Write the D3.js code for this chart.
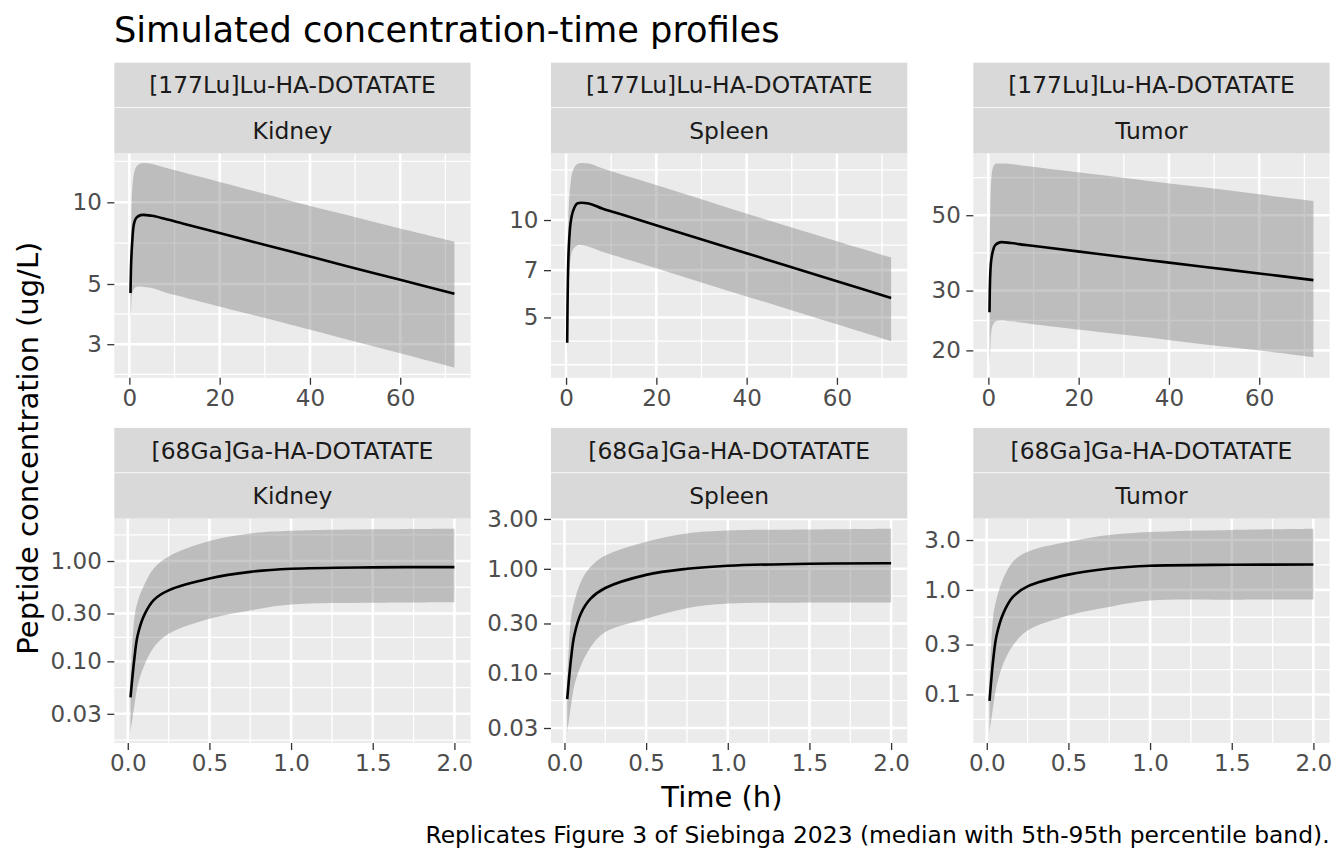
<!DOCTYPE html>
<html>
<head>
<meta charset="utf-8">
<script src="https://cdnjs.cloudflare.com/ajax/libs/d3/7.8.5/d3.min.js"></script>
<style>
  body { margin: 0; background: #ffffff; }
  text { font-family: "DejaVu Sans", sans-serif; }
</style>
</head>
<body>
<div id="chart"></div>
<script>
//Facet labels
var tracers = ["[177Lu]Lu-HA-DOTATATE", "[68Ga]Ga-HA-DOTATATE"];
var tissues = ["Kidney", "Spleen", "Tumor"];

//Time points (h)
var timeLu = [0.25, 0.4, 0.6, 1, 1.5, 2.5, 5, 8, 12, 24, 36, 48, 60, 72];
var timeGa = [0.0167, 0.04, 0.06, 0.1, 0.16, 0.25, 0.5, 0.75, 1, 1.5, 2];

//[177Lu] median, 5th and 95th percentile (ug/L)
var luKidneyMed = [4.63, 6.0, 7.0, 8.3, 8.75, 8.97, 8.92, 8.68, 8.34, 7.40, 6.57, 5.83, 5.18, 4.60];
var luKidneyLo  = [3.7, 4.1, 4.6, 4.8, 4.87, 4.89, 4.83, 4.65, 4.47, 3.97, 3.53, 3.13, 2.78, 2.46];
var luKidneyHi  = [5.5, 8.0, 11.0, 12.7, 13.5, 13.9, 13.85, 13.4, 12.88, 11.42, 10.1, 8.99, 8.0, 7.16];

var luSpleenMed = [4.18, 6.5, 8.2, 9.8, 10.6, 11.25, 11.25, 10.85, 10.43, 9.25, 8.21, 7.29, 6.47, 5.74];
var luSpleenLo  = [3.5, 5.2, 6.5, 7.6, 8.1, 8.35, 8.27, 7.98, 7.67, 6.81, 6.04, 5.37, 4.76, 4.22];
var luSpleenHi  = [5.0, 8.5, 11.0, 13.0, 14.2, 14.9, 14.95, 14.45, 13.88, 12.32, 10.9, 9.67, 8.6, 7.66];

var luTumorMed = [25.9, 33, 36.5, 39.2, 40.8, 41.6, 41.4, 40.9, 40.3, 38.5, 36.8, 35.2, 33.7, 32.2];
var luTumorLo  = [17.8, 20, 22.5, 23.8, 24.3, 24.5, 24.35, 24.1, 23.7, 22.7, 21.8, 20.8, 20.0, 19.1];
var luTumorHi  = [30, 50, 62, 69, 70.8, 71.0, 70.8, 69.9, 68.9, 65.9, 63.0, 60.3, 57.6, 55.1];

//[68Ga] median, 5th and 95th percentile (ug/L)
var gaKidneyMed = [0.0438, 0.105, 0.18, 0.287, 0.41, 0.51, 0.67, 0.78, 0.837, 0.865, 0.87];
var gaKidneyLo  = [0.0194, 0.0358, 0.0569, 0.0903, 0.138, 0.188, 0.266, 0.322, 0.368, 0.383, 0.388];
var gaKidneyHi  = [0.07, 0.266, 0.391, 0.574, 0.845, 1.11, 1.58, 1.88, 2.0, 2.07, 2.1];

var gaSpleenMed = [0.0566, 0.137, 0.23, 0.372, 0.518, 0.655, 0.875, 1.0, 1.07, 1.12, 1.13];
var gaSpleenLo  = [0.027, 0.049, 0.076, 0.118, 0.178, 0.248, 0.333, 0.42, 0.465, 0.475, 0.477];
var gaSpleenHi  = [0.08, 0.333, 0.482, 0.75, 1.045, 1.34, 1.82, 2.18, 2.32, 2.38, 2.42];

var gaTumorMed = [0.087, 0.219, 0.366, 0.59, 0.857, 1.08, 1.40, 1.60, 1.70, 1.74, 1.75];
var gaTumorLo  = [0.043, 0.078, 0.121, 0.195, 0.294, 0.409, 0.57, 0.687, 0.79, 0.805, 0.81];
var gaTumorHi  = [0.13, 0.57, 0.82, 1.28, 1.86, 2.32, 2.89, 3.35, 3.58, 3.75, 3.85];

//Tick values and labels
var luTimeTicks = [0, 20, 40, 60];
var luTimeLabels = ["0", "20", "40", "60"];
var gaTimeTicks = [0, 0.5, 1, 1.5, 2];
var gaTimeLabels = ["0.0", "0.5", "1.0", "1.5", "2.0"];

var luKidneyTicks = [3, 5, 10];
var luKidneyLabels = ["3", "5", "10"];
var luSpleenTicks = [5, 7, 10];
var luSpleenLabels = ["5", "7", "10"];
var luTumorTicks = [20, 30, 50];
var luTumorLabels = ["20", "30", "50"];
var gaKidneyTicks = [0.03, 0.1, 0.3, 1];
var gaKidneyLabels = ["0.03", "0.10", "0.30", "1.00"];
var gaSpleenTicks = [0.03, 0.1, 0.3, 1, 3];
var gaSpleenLabels = ["0.03", "0.10", "0.30", "1.00", "3.00"];
var gaTumorTicks = [0.1, 0.3, 1, 3];
var gaTumorLabels = ["0.1", "0.3", "1.0", "3.0"];

var titleText = "Simulated concentration-time profiles";
var xTitle = "Time (h)";
var yTitle = "Peptide concentration (ug/L)";
var captionText = "Replicates Figure 3 of Siebinga 2023 (median with 5th-95th percentile band).";

//Layout
var w = 1344;
var h = 864;
var colLeft = [114.3, 551, 973.3];
var panelW = 356.3;
var rowTop = [153.3, 518.5];
var panelH = 224.5;
var stripH = 45.3;

//Build panel table from the arrays above
var medTable = [[luKidneyMed, luSpleenMed, luTumorMed], [gaKidneyMed, gaSpleenMed, gaTumorMed]];
var loTable = [[luKidneyLo, luSpleenLo, luTumorLo], [gaKidneyLo, gaSpleenLo, gaTumorLo]];
var hiTable = [[luKidneyHi, luSpleenHi, luTumorHi], [gaKidneyHi, gaSpleenHi, gaTumorHi]];
var yTickTable = [[luKidneyTicks, luSpleenTicks, luTumorTicks], [gaKidneyTicks, gaSpleenTicks, gaTumorTicks]];
var yLabelTable = [[luKidneyLabels, luSpleenLabels, luTumorLabels], [gaKidneyLabels, gaSpleenLabels, gaTumorLabels]];
var timeTable = [timeLu, timeGa];
var xTickTable = [luTimeTicks, gaTimeTicks];
var xLabelTable = [luTimeLabels, gaTimeLabels];

var panels = [];
tracers.forEach(function(tr, r) {
  tissues.forEach(function(ts, c) {
    var time = timeTable[r];
    panels.push({
      tracer: tr,
      tissue: ts,
      row: r,
      col: c,
      rows: time.map(function(t, i) {
        return { t: t, med: medTable[r][c][i], lo: loTable[r][c][i], hi: hiTable[r][c][i] };
      }),
      xTicks: xTickTable[r],
      xLabels: xLabelTable[r],
      yTicks: yTickTable[r][c],
      yLabels: yLabelTable[r][c]
    });
  });
});

//ggplot-like minor breaks: midpoints in transformed space, one step past the ends
function minorBreaks(major, lo, hi) {
  var b = major.slice();
  if (b[0] > lo) b.unshift(b[0] - (b[1] - b[0]));
  var n = b.length;
  if (b[n - 1] < hi) b.push(b[n - 1] + (b[n - 1] - b[n - 2]));
  var out = [];
  for (var i = 0; i < b.length - 1; i++) {
    out.push(b[i], (b[i] + b[i + 1]) / 2);
  }
  out.push(b[b.length - 1]);
  return out.filter(function(v) { return v >= lo && v <= hi; });
}

var svg = d3.select("#chart")
  .append("svg")
  .attr("width", w)
  .attr("height", h);

svg.append("rect")
  .attr("width", w)
  .attr("height", h)
  .attr("fill", "#ffffff");

var smooth = d3.curveCatmullRom.alpha(0.5);

panels.forEach(function(p) {
  var x0 = colLeft[p.col];
  var y0 = rowTop[p.row];

  //Scales with 5% expansion (log space for y)
  var tExt = d3.extent(p.rows, function(d) { return d.t; });
  var tPad = (tExt[1] - tExt[0]) * 0.05;
  var xScale = d3.scaleLinear()
    .domain([tExt[0] - tPad, tExt[1] + tPad])
    .range([0, panelW]);

  var lmin = Math.log10(d3.min(p.rows, function(d) { return Math.min(d.lo, d.med); }));
  var lmax = Math.log10(d3.max(p.rows, function(d) { return Math.max(d.hi, d.med); }));
  var lPad = (lmax - lmin) * 0.05;
  var yScale = d3.scaleLog()
    .domain([Math.pow(10, lmin - lPad), Math.pow(10, lmax + lPad)])
    .range([panelH, 0]);

  var g = svg.append("g")
    .attr("transform", "translate(" + x0 + "," + y0 + ")");

  //Panel background
  g.append("rect")
    .attr("width", panelW)
    .attr("height", panelH)
    .attr("fill", "#EBEBEB");

  //Minor grid
  var xd = xScale.domain();
  var xMinor = minorBreaks(p.xTicks, xd[0], xd[1]);
  var ld = [lmin - lPad, lmax + lPad];
  var yMinor = minorBreaks(p.yTicks.map(Math.log10), ld[0], ld[1]).map(function(v) { return Math.pow(10, v); });

  g.selectAll("line.xminor")
    .data(xMinor)
    .enter()
    .append("line")
    .attr("x1", function(d) { return xScale(d); })
    .attr("x2", function(d) { return xScale(d); })
    .attr("y1", 0)
    .attr("y2", panelH)
    .attr("stroke", "#ffffff")
    .attr("stroke-width", 1.3);

  g.selectAll("line.yminor")
    .data(yMinor)
    .enter()
    .append("line")
    .attr("x1", 0)
    .attr("x2", panelW)
    .attr("y1", function(d) { return yScale(d); })
    .attr("y2", function(d) { return yScale(d); })
    .attr("stroke", "#ffffff")
    .attr("stroke-width", 1.3);

  //Major grid
  g.selectAll("line.xmajor")
    .data(p.xTicks)
    .enter()
    .append("line")
    .attr("x1", function(d) { return xScale(d); })
    .attr("x2", function(d) { return xScale(d); })
    .attr("y1", 0)
    .attr("y2", panelH)
    .attr("stroke", "#ffffff")
    .attr("stroke-width", 2.6);

  g.selectAll("line.ymajor")
    .data(p.yTicks)
    .enter()
    .append("line")
    .attr("x1", 0)
    .attr("x2", panelW)
    .attr("y1", function(d) { return yScale(d); })
    .attr("y2", function(d) { return yScale(d); })
    .attr("stroke", "#ffffff")
    .attr("stroke-width", 2.6);

  //Percentile band
  var band = d3.area()
    .x(function(d) { return xScale(d.t); })
    .y0(function(d) { return yScale(d.lo); })
    .y1(function(d) { return yScale(d.hi); })
    .curve(smooth);

  g.append("path")
    .datum(p.rows)
    .attr("d", band)
    .attr("fill", "#7F7F7F")
    .attr("fill-opacity", 0.42);

  //Median
  var medLine = d3.line()
    .x(function(d) { return xScale(d.t); })
    .y(function(d) { return yScale(d.med); })
    .curve(smooth);

  g.append("path")
    .datum(p.rows)
    .attr("d", medLine)
    .attr("fill", "none")
    .attr("stroke", "#000000")
    .attr("stroke-width", 2.6);

  //Axes
  var xAxis = d3.axisBottom(xScale)
    .tickValues(p.xTicks)
    .tickFormat(function(d, i) { return p.xLabels[i]; })
    .tickSize(7)
    .tickPadding(4.5);

  var yAxis = d3.axisLeft(yScale)
    .tickValues(p.yTicks)
    .tickFormat(function(d, i) { return p.yLabels[i]; })
    .tickSize(7)
    .tickPadding(5.5);

  var gx = g.append("g")
    .attr("transform", "translate(0," + panelH + ")")
    .call(xAxis);

  var gy = g.append("g")
    .call(yAxis);

  [gx, gy].forEach(function(a) {
    a.select(".domain").remove();
    a.selectAll(".tick line")
      .attr("stroke", "#333333")
      .attr("stroke-width", 1.3);
    a.selectAll(".tick text")
      .attr("fill", "#4D4D4D")
      .style("font-size", "23px")
      .style("font-family", "'DejaVu Sans', sans-serif");
  });

  //Strips
  var strips = [p.tracer, p.tissue];
  strips.forEach(function(label, k) {
    var sy = -stripH * (2 - k);
    g.append("rect")
      .attr("x", 0)
      .attr("y", sy)
      .attr("width", panelW)
      .attr("height", stripH - (k === 0 ? 0.8 : 0))
      .attr("fill", "#D9D9D9");
    g.append("text")
      .attr("x", panelW / 2)
      .attr("y", sy + stripH / 2)
      .attr("text-anchor", "middle")
      .attr("dominant-baseline", "central")
      .attr("fill", "#1A1A1A")
      .style("font-size", "23.4px")
      .text(label);
  });
});

//Titles
svg.append("text")
  .attr("x", 114)
  .attr("y", 42)
  .attr("fill", "#000000")
  .style("font-size", "35.2px")
  .text(titleText);

svg.append("text")
  .attr("x", (colLeft[0] + colLeft[2] + panelW) / 2)
  .attr("y", 807)
  .attr("text-anchor", "middle")
  .attr("fill", "#000000")
  .style("font-size", "29px")
  .text(xTitle);

svg.append("text")
  .attr("transform", "translate(28," + ((rowTop[0] + rowTop[1] + panelH) / 2) + ") rotate(-90)")
  .attr("text-anchor", "middle")
  .attr("dominant-baseline", "central")
  .attr("fill", "#000000")
  .style("font-size", "29px")
  .text(yTitle);

svg.append("text")
  .attr("x", colLeft[2] + panelW)
  .attr("y", 843)
  .attr("text-anchor", "end")
  .attr("fill", "#000000")
  .style("font-size", "23.4px")
  .text(captionText);
</script>
</body>
</html>
